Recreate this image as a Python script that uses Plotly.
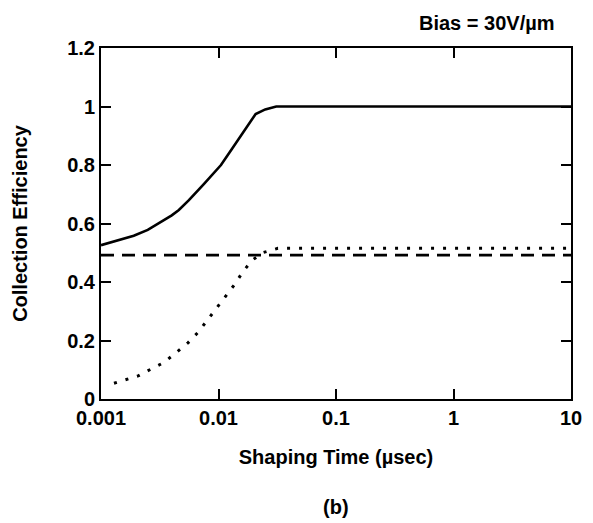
import plotly.graph_objects as go

# shaping time (usec) and collection efficiency
solid_t = [0.001, 0.0014, 0.0019, 0.0025, 0.0032, 0.004, 0.0046, 0.0056, 0.0075,
           0.0105, 0.013, 0.016, 0.0207, 0.025, 0.031, 10]
solid_eff = [0.526, 0.542, 0.558, 0.578, 0.603, 0.628, 0.646, 0.68, 0.735,
             0.80, 0.855, 0.91, 0.974, 0.99, 1.0, 1.0]

dashed_t = [0.001, 10]
dashed_eff = [0.492, 0.492]

dotted_t = [0.00129, 0.00207, 0.0026, 0.0034, 0.0042, 0.0055, 0.0067, 0.0082, 0.0097,
            0.0117, 0.0138, 0.0161, 0.0194, 0.0241, 0.032, 10]
dotted_eff = [0.054, 0.079, 0.10, 0.124, 0.153, 0.192, 0.228, 0.273, 0.312,
              0.353, 0.393, 0.435, 0.475, 0.501, 0.515, 0.515]

x_ticks = [0.001, 0.01, 0.1, 1, 10]
x_labels = ["0.001", "0.01", "0.1", "1", "10"]

FONT = "Liberation Sans, Arial, sans-serif"
txt = dict(family=FONT, size=20, color="black", weight="bold")

fig = go.Figure()
fig.add_trace(go.Scatter(x=solid_t, y=solid_eff, mode="lines",
                         line=dict(color="black", width=2.6)))
fig.add_trace(go.Scatter(x=dashed_t, y=dashed_eff, mode="lines",
                         line=dict(color="black", width=2.6, dash="13px,8px")))
fig.add_trace(go.Scatter(x=dotted_t, y=dotted_eff, mode="lines",
                         line=dict(color="black", width=3, dash="3px,9px")))

axis_common = dict(showline=True, linecolor="black", linewidth=2, mirror="ticks",
                   ticks="inside", ticklen=10, tickwidth=2, tickcolor="black",
                   showgrid=False, zeroline=False, tickfont=txt)

fig.update_xaxes(type="log", range=[-3, 1], tickvals=x_ticks, ticktext=x_labels,
                 title=dict(text="Shaping Time (µsec)", standoff=22, font=txt),
                 **axis_common)
fig.update_yaxes(range=[0, 1.2], dtick=0.2,
                 title=dict(text="Collection Efficiency", standoff=34, font=txt),
                 **axis_common)

fig.add_annotation(text="Bias = 30V/µm", x=1, xref="paper", xanchor="right", xshift=-14,
                   y=1.071, yref="paper", yanchor="middle", showarrow=False, font=txt)
fig.add_annotation(text="(b)", x=0.5, xref="paper", xanchor="center",
                   y=-0.308, yref="paper", yanchor="middle", showarrow=False, font=txt)

# the page body adds an 8px margin, so the figure is 8px smaller to avoid scrollbars
fig.update_layout(width=585, height=515, showlegend=False,
                  plot_bgcolor="white", paper_bgcolor="white",
                  margin=dict(l=88, r=11, t=40, b=124))

fig.write_html("out.html")
